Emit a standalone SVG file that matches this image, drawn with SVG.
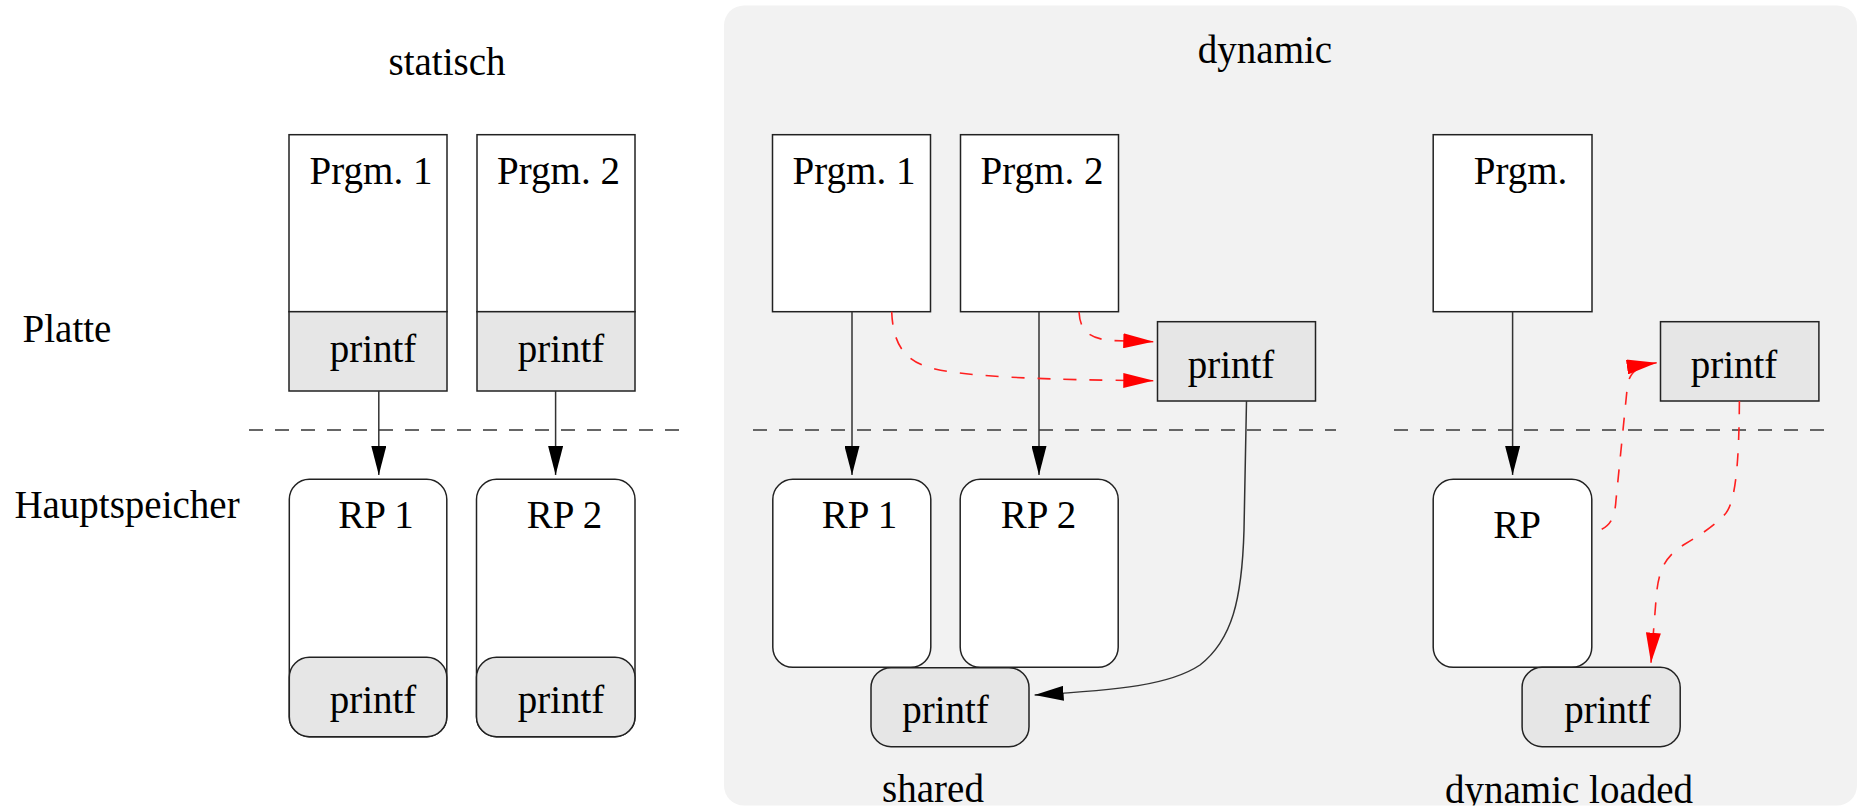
<svg xmlns="http://www.w3.org/2000/svg" width="1864" height="812" viewBox="0 0 1864 812">
  <style>
    text { font-family: "Liberation Serif", "Times New Roman", serif; font-size: 39px; fill: #000; text-anchor: middle; }
    .box { fill: #fff; stroke: #222; stroke-width: 1.5; }
    .lib { fill: #e6e6e6; stroke: #222; stroke-width: 1.5; }
    .sep { fill: none; stroke: #666; stroke-width: 2; stroke-dasharray: 14 12; }
    .link { fill: none; stroke: #333; stroke-width: 1.5; marker-end: url(#head); }
    .load { fill: none; stroke: #ff2020; stroke-width: 1.6; stroke-dasharray: 13 13; marker-end: url(#headRed); }
  </style>
  <defs>
    <marker id="head" markerUnits="userSpaceOnUse" markerWidth="29" markerHeight="15" refX="29" refY="7.5" orient="auto">
      <path d="M0,0 L29,7.5 L0,15 z" fill="#000"/>
    </marker>
    <marker id="headRed" markerUnits="userSpaceOnUse" markerWidth="30" markerHeight="15" refX="30" refY="7.5" orient="auto">
      <path d="M0,0 L30,7.5 L0,15 z" fill="#ff0000"/>
    </marker>
    <clipPath id="panelClip">
      <rect x="724" y="5.5" width="1133" height="800" rx="20"/>
    </clipPath>
  </defs>

  <!-- background panel of the dynamic variants -->
  <rect id="dynamic-panel" x="724" y="5.5" width="1133" height="800" rx="20" fill="#f2f2f2"/>

  <!-- section and row labels -->
  <g id="labels">
    <text x="447" y="75">statisch</text>
    <text x="1265" y="63">dynamic</text>
    <text x="67" y="342">Platte</text>
    <text x="127" y="518">Hauptspeicher</text>
    <g clip-path="url(#panelClip)">
      <text x="933" y="802">shared</text>
      <text x="1569" y="803">dynamic loaded</text>
    </g>
  </g>

  <!-- disk / memory separators -->
  <g id="separators">
    <line class="sep" x1="249" y1="430" x2="684" y2="430"/>
    <line class="sep" x1="753" y1="430" x2="1336" y2="430"/>
    <line class="sep" x1="1394" y1="430" x2="1830" y2="430"/>
  </g>

  <!-- static linking -->
  <g id="static-prgm1">
    <rect class="box" x="289" y="134.7" width="158" height="177"/>
    <rect class="lib" x="289" y="311.7" width="158" height="79.3"/>
    <text x="371" y="184">Prgm. 1</text>
    <text x="373" y="362">printf</text>
  </g>
  <g id="static-prgm2">
    <rect class="box" x="477" y="134.7" width="158" height="177"/>
    <rect class="lib" x="477" y="311.7" width="158" height="79.3"/>
    <text x="558.5" y="184">Prgm. 2</text>
    <text x="561" y="362">printf</text>
  </g>
  <g id="static-rp1">
    <rect class="box" x="289.3" y="479.3" width="157.5" height="257.4" rx="20"/>
    <rect class="lib" x="289.3" y="657.3" width="157.5" height="79.4" rx="20"/>
    <text x="376" y="528">RP 1</text>
    <text x="373" y="713">printf</text>
  </g>
  <g id="static-rp2">
    <rect class="box" x="476.5" y="479.3" width="158.5" height="257.4" rx="20"/>
    <rect class="lib" x="476.5" y="657.3" width="158.5" height="79.4" rx="20"/>
    <text x="564.5" y="528">RP 2</text>
    <text x="561" y="713">printf</text>
  </g>

  <!-- shared library -->
  <g id="shared-prgm1">
    <rect class="box" x="772.5" y="134.7" width="158" height="177"/>
    <text x="854" y="184">Prgm. 1</text>
  </g>
  <g id="shared-prgm2">
    <rect class="box" x="960.5" y="134.7" width="158" height="177"/>
    <text x="1042" y="184">Prgm. 2</text>
  </g>
  <g id="shared-lib-disk">
    <rect class="lib" x="1157.5" y="321.7" width="158" height="79.3"/>
    <text x="1231" y="378">printf</text>
  </g>
  <g id="shared-rp1">
    <rect class="box" x="772.8" y="479.3" width="158" height="188" rx="20"/>
    <text x="859.5" y="528">RP 1</text>
  </g>
  <g id="shared-rp2">
    <rect class="box" x="960.2" y="479.3" width="158" height="188" rx="20"/>
    <text x="1038.5" y="528">RP 2</text>
  </g>
  <g id="shared-lib-mem">
    <rect class="lib" x="871" y="667.7" width="158" height="79" rx="20"/>
    <text x="945.5" y="723">printf</text>
  </g>

  <!-- dynamically loaded library -->
  <g id="dl-prgm">
    <rect class="box" x="1433.2" y="134.7" width="158.8" height="177"/>
    <text x="1520.5" y="184">Prgm.</text>
  </g>
  <g id="dl-lib-disk">
    <rect class="lib" x="1660.5" y="321.7" width="158.4" height="79.3"/>
    <text x="1734" y="378">printf</text>
  </g>
  <g id="dl-rp">
    <rect class="box" x="1433.2" y="479.3" width="158.6" height="188" rx="20"/>
    <text x="1517" y="538">RP</text>
  </g>
  <g id="dl-lib-mem">
    <rect class="lib" x="1522.1" y="667.3" width="158.1" height="79.4" rx="20"/>
    <text x="1607.5" y="723">printf</text>
  </g>

  <!-- connectors -->
  <g id="connectors">
    <line class="link" x1="378.8" y1="391" x2="378.8" y2="475"/>
    <line class="link" x1="555.6" y1="391" x2="555.6" y2="475"/>
    <line class="link" x1="852" y1="311.7" x2="852" y2="475"/>
    <line class="link" x1="1039" y1="311.7" x2="1039" y2="475"/>
    <line class="link" x1="1512.6" y1="311.7" x2="1512.6" y2="475"/>
    <path class="link" d="M1246.5,401 L1244,530 C1242,600 1232,640 1200,665 C1170,685 1120,690 1034.6,695"/>

    <path class="load" d="M891.7,311.7 C893,345 905,362 935,369 C970,377 1050,380 1153.3,380.7"/>
    <path class="load" d="M1079,311.7 C1080,330 1088,338 1110,340.5 L1153.3,341.7"/>
    <path class="load" d="M1601.7,529.3 C1612,524 1615,515 1616,500 L1627,390 C1628,375 1634,366 1656.7,362.7"/>
    <path class="load" d="M1739.4,401 C1739,460 1736,500 1726,513 C1716,525 1700,535 1685,544 C1665,556 1658,570 1656,600 L1651,662.7"/>
  </g>
</svg>
